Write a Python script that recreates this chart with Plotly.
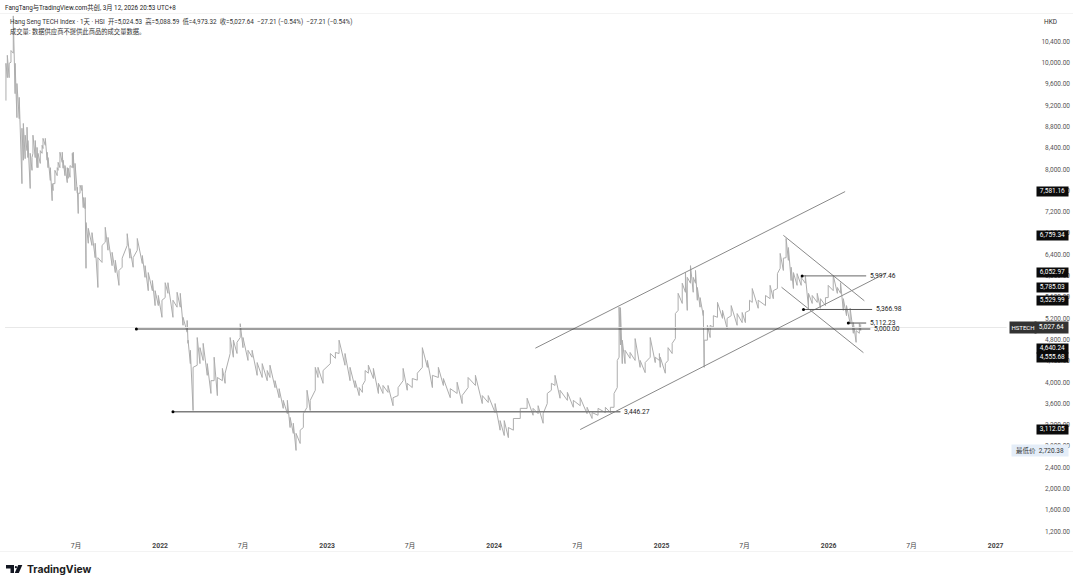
import pandas as pd
import plotly.graph_objects as go

BASE = pd.Timestamp("2022-01-01")

day_offset = [-337,-334,-330,-326,-321,-317,-313,-308,-302,-299,-295,-291,-289,-284,-280,-278,-273,-269,-267,-262,
-258,-256,-251,-247,-245,-240,-236,-234,-230,-225,-223,-219,-214,-212,-208,-203,-201,-197,-192,-190,
-186,-181,-179,-175,-171,-168,-164,-162,-157,-149,-142,-136,-127,-120,-114,-105,-98,-90,-83,-72,
-66,-59,-50,-39,-33,-26,-17,-11,-4,4,11,17,28,37,44,50,59,61,66,72,
81,87,94,103,111,118,125,136,142,153,160,168,175,181,192,201,212,223,234,240,
251,260,269,278,284,291,297,306,313,321,328,339,345,356,372,383,391,404,415,426,
435,442,448,455,466,477,487,498,509,520,531,540,551,562,573,584,595,608,619,634,
649,660,673,689,704,717,732,743,752,761,772,787,802,815,826,837,846,855,863,874,
890,903,918,933,944,957,973,984,992,999,1003,1006,1010,1016,1027,1038,1049,1060,1071,1082,
1091,1093,1104,1110,1119,1126,1132,1141,1148,1152,1159,1165,1170,1174,1180,1187,1189,1196,1202,1209,
1218,1229,1239,1248,1261,1272,1279,1288,1294,1307,1323,1333,1340,1349,1355,1362,1368,1373,1379,1384,
1392,1401,1410,1417,1425,1436,1443,1454,1460,1471,1480,1487,1493,1500,1508,1515,1521,1528,1531]

highs = [9990,10140,9990,10230,10880,9990,9610,9350,8770,8860,8640,8790,8540,8300,8220,8640,8540,8410,8300,8350,
8450,8580,8580,8320,8220,8030,7730,7730,7980,8030,8130,8320,8320,8170,8070,8030,8020,8070,8300,8320,
8110,7660,7550,7700,7700,7470,7470,7000,6890,6810,6610,6340,6570,6910,6720,6440,6290,6100,6330,6790,
6510,6340,6700,6380,6190,6060,5910,5720,5630,5540,5870,5870,5540,5690,5670,5220,5160,4790,4600,4280,
4840,4650,4730,4350,4030,4470,4090,4260,4170,4840,4790,4750,5100,4840,4600,4600,4370,4350,4220,4320,
4030,3880,3660,3660,3340,3230,3040,3100,3410,3850,3660,4280,4280,4220,4540,4560,4790,4540,4280,4030,
3900,3940,4220,4320,4260,3980,3940,3940,3710,3900,4260,3980,4070,4170,4650,4410,4130,4280,4070,3880,
4000,3750,4090,4130,3750,3750,3600,3280,3280,3150,3320,3510,3700,3510,3560,3410,3790,3980,4130,3850,
3810,3660,3710,3530,3430,3510,3530,3530,3790,4410,5410,5400,4790,4600,4560,4820,4410,4370,4840,4470,
4540,4470,4350,4650,4730,5290,5670,5860,6060,5970,6190,5970,6100,5780,5590,5350,4790,5070,5070,5250,
5500,5350,5200,5440,5290,5310,5310,5540,5760,5540,5630,5820,5720,6040,6420,6330,6700,6530,6160,6060,
6040,5970,6010,5670,5630,5670,5570,5590,5820,6010,5780,5870,5570,5440,5390,5120,4970,5100,5089]

lows = [9290,9720,9720,10010,10180,9420,8970,8950,7730,8170,8200,8350,8220,7640,7980,8300,8220,8030,8030,8110,
8300,8390,8450,8170,8030,7790,7410,7600,7730,7880,7980,8030,8130,8020,7880,7750,7830,7850,8030,8030,
7600,7550,7170,7550,7600,7280,7260,6140,6610,6570,6340,5780,6250,6630,6480,6190,6060,5820,6160,6570,
6330,6160,6480,6230,5970,5720,5720,5440,5440,5220,5590,5670,5220,5410,5410,5070,4940,4730,4350,3470,
4320,4350,4410,4130,3790,4030,3750,4030,3980,4540,4470,4540,4840,4650,4410,4470,4130,4090,4030,4090,
3900,3710,3510,3410,3150,3040,2720,2850,3150,3530,3470,3850,4090,3980,4350,4450,4540,4320,4030,3900,
3750,3810,4030,4170,4070,3790,3790,3810,3560,3750,4030,3850,3900,4040,4280,4280,3900,4090,3940,3710,
3790,3600,3900,3940,3600,3620,3430,3100,3000,2960,3100,3320,3510,3380,3410,3230,3600,3850,3940,3700,
3660,3530,3560,3410,3320,3380,3430,3430,3530,3900,4470,4700,4350,4350,4450,4410,4280,4180,4470,4370,
4410,4280,4170,4410,4540,4820,5350,5480,5690,5350,5860,5690,5860,5540,5410,5250,4280,4790,4840,5030,
5220,5200,5010,5250,5070,5120,5120,5350,5500,5390,5440,5570,5570,5760,6140,6100,6340,6290,5910,5760,
5820,5820,5860,5390,5480,5500,5390,5440,5590,5720,5670,5670,5350,5250,5100,4920,4750,4920,4973]

y_ticks = list(range(1200, 10800, 400))
x_tick_dates = ["2021-07-01","2022-01-01","2022-07-01","2023-01-01","2023-07-01","2024-01-01",
                "2024-07-01","2025-01-01","2025-07-01","2026-01-01","2026-07-01","2027-01-01"]
x_tick_text = ["7月","<b>2022</b>","7月","<b>2023</b>","7月","<b>2024</b>","7月","<b>2025</b>","7月","<b>2026</b>","7月","<b>2027</b>"]

# trend lines: (start day, start price, end day, end price)
channel_up_upper = (820, 4640.24, 1497, 7581.16)
channel_up_lower = (918, 3112.05, 1587, 6052.97)
channel_down_upper = (1362, 6759.34, 1539, 5529.99)
channel_down_lower = (1358, 5785.03, 1537, 4555.68)

# horizontal levels: (price, start day, end day, label, line colour, width)
levels = [
    (5000.00, -52, 1552, "5,000.00", "#3d3d3d", 1.0),
    (3446.27, 28, 1006, "3,446.27", "#7d7d7d", 1.3),
    (5997.46, 1403, 1543, "5,997.46", "#666666", 1.0),
    (5366.98, 1406, 1556, "5,366.98", "#555555", 1.0),
    (5112.23, 1504, 1543, "5,112.23", "#555555", 1.0),
]
last_price = 5027.64

black_tags = [7581.16, 6759.34, 6052.97, 5785.03, 5529.99, 4640.24, 4555.68, 3112.05]
tag_push_px = {4555.68: -5}
low_price = 2720.38

FONT = "Roboto, 'Noto Sans CJK SC', sans-serif"
L_PX, R_PX, T_PX, B_PX = 0, 1073, 14, 551


def d(n):
    return BASE + pd.Timedelta(days=n)


def px(x):
    return (x - L_PX) / (R_PX - L_PX)


def py(y):
    return (B_PX - y) / (B_PX - T_PX)


zx, zy = [], []
for n, h, l in zip(day_offset, highs, lows):
    zx += [d(n), d(n)]
    zy += [l, h]

fig = go.Figure()
fig.add_trace(go.Scatter(x=zx, y=zy, mode="lines", line=dict(color="#adadad", width=1), hoverinfo="skip"))

fig.add_trace(go.Scatter(x=[d(-339), d(1850)], y=[last_price, last_price], mode="lines",
                         line=dict(color="#e8e8e8", width=1), hoverinfo="skip"))

for seg in (channel_up_upper, channel_up_lower, channel_down_upper, channel_down_lower):
    fig.add_trace(go.Scatter(x=[d(seg[0]), d(seg[2])], y=[seg[1], seg[3]], mode="lines",
                             line=dict(color="#8a8a8a", width=1), hoverinfo="skip"))

annotations = []
for price, a, b, label, col, w in levels:
    fig.add_trace(go.Scatter(x=[d(a), d(b)], y=[price, price], mode="lines",
                             line=dict(color=col, width=w), hoverinfo="skip"))
    fig.add_trace(go.Scatter(x=[d(a)], y=[price], mode="markers",
                             marker=dict(color="#000000", size=3), hoverinfo="skip"))
    annotations.append(dict(x=d(b), y=price, xref="x", yref="y", text=label, showarrow=False, xanchor="left",
                            xshift=2, font=dict(size=6.7, color="#222222", family=FONT)))


def paper_text(x, y, text, size=6.3, color="#333333", anchor="left", family=FONT):
    annotations.append(dict(x=px(x), y=py(y), xref="paper", yref="paper", text=text, showarrow=False,
                            xanchor=anchor, yanchor="middle", font=dict(size=size, color=color, family=family)))


paper_text(3, 8, "FangTang与TradingView.com共创, 3月 12, 2026 20:53 UTC+8", color="#222222")
paper_text(8, 22, "Hang Seng TECH Index · 1天 · HSI &nbsp;开=5,024.53 &nbsp;高=5,088.59 &nbsp;低=4,973.32 &nbsp;收=5,027.64 &nbsp;−27.21 (−0.54%) &nbsp;−27.21 (−0.54%)", size=6.35, color="#333333")
paper_text(8, 31, "成交量: 数据供应商不提供此商品的成交量数据。", color="#333333")
paper_text(1042, 22, "HKD", size=6.5, color="#333333")
paper_text(25, 569, "<b>TradingView</b>", size=10.4, color="#1c1c1c", family="Inter, Roboto, sans-serif")

for price in black_tags:
    annotations.append(dict(x=px(1069), y=price, xref="paper", yref="y", text=f"{price:,.2f}", showarrow=False,
                            xanchor="right", width=31, height=8.5, bgcolor="#0b0b0b", borderpad=0,
                            yshift=tag_push_px.get(price, 0),
                            font=dict(size=6.5, color="#ffffff", family=FONT)))
annotations.append(dict(x=px(1069), y=last_price, xref="paper", yref="y", text=f"{last_price:,.2f}", showarrow=False,
                        xanchor="right", width=31, height=8.5, bgcolor="#333333",
                        font=dict(size=6.5, color="#ffffff", family=FONT)))
annotations.append(dict(x=px(1036.5), y=last_price, xref="paper", yref="y", text="HSTECH", showarrow=False,
                        xanchor="right", width=24, height=8.5, bgcolor="#333333",
                        font=dict(size=6, color="#ffffff", family=FONT)))
annotations.append(dict(x=px(1069), y=low_price, xref="paper", yref="y",
                        text="最低价 &nbsp;" + f"{low_price:,.2f}", showarrow=False,
                        xanchor="right", width=54, height=8.5, bgcolor="#e4edf8",
                        font=dict(size=6.5, color="#333333", family=FONT)))


def logo_path(points):
    return "M" + " L".join(f"{px(x):.5f},{py(y):.5f}" for x, y in points) + " Z"


shapes = [
    dict(type="path", xref="paper", yref="paper", fillcolor="#131722", line=dict(width=0),
         path=logo_path([(6, 565), (14, 565), (14, 573), (10.5, 573), (10.5, 568.5), (6, 568.5)])),
    dict(type="circle", xref="paper", yref="paper", fillcolor="#131722", line=dict(width=0),
         x0=px(14.8), x1=px(17), y0=py(568.3), y1=py(566)),
    dict(type="path", xref="paper", yref="paper", fillcolor="#131722", line=dict(width=0),
         path=logo_path([(18.2, 565), (22.3, 565), (18.8, 573), (14.8, 573)])),
]

fig.update_layout(
    width=1080, height=585, margin=dict(l=L_PX, r=1080 - R_PX, t=T_PX, b=585 - B_PX),
    paper_bgcolor="#ffffff", plot_bgcolor="#ffffff", showlegend=False,
    font=dict(family=FONT, size=6.5, color="#555555"),
    annotations=annotations, shapes=shapes,
    xaxis=dict(type="date", range=[d(-350), d(1995)], tickmode="array", tickvals=x_tick_dates, ticktext=x_tick_text,
               ticklabelposition="inside", showgrid=False, zeroline=False, ticks="", tickangle=0,
               showline=True, linecolor="#f3f3f3", linewidth=1, mirror=True,
               tickfont=dict(size=6.8, color="#444444")),
    yaxis=dict(side="right", range=[831, 10916], tickmode="array", tickvals=y_ticks,
               ticktext=[f"{v:,.2f}" for v in y_ticks], ticklabelposition="inside", showgrid=False, zeroline=False,
               ticks="", showline=False, tickfont=dict(size=6.5, color="#555555")),
)

fig.write_html("out.html", post_script="document.body.style.margin='0';document.body.style.overflow='hidden';",
               config=dict(displayModeBar=False))
